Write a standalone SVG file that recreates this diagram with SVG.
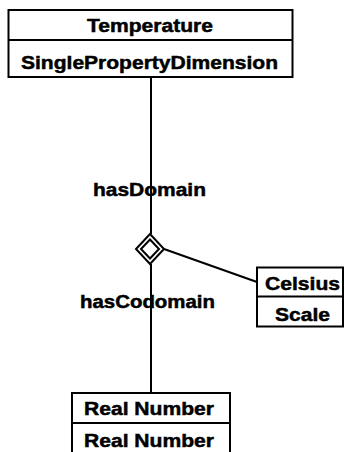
<svg xmlns="http://www.w3.org/2000/svg" width="345" height="452" viewBox="0 0 345 452">
<style>
.box{fill:#fff;stroke:#000;stroke-width:2}
.ln{stroke:#000;stroke-width:2;fill:none}
text{font-family:"Liberation Sans",Arial,sans-serif;font-weight:bold;font-size:19px;fill:#000;stroke:#000;stroke-width:0.5;text-anchor:middle}
</style>
<rect width="345" height="452" fill="#fff"/>
<g id="connectors">
<line class="ln" x1="151" y1="77" x2="151" y2="234"/>
<line class="ln" x1="151" y1="264" x2="151" y2="393"/>
<line class="ln" x1="164" y1="249" x2="257" y2="282"/>
</g>
<g id="labels">
<text x="149.5" y="195.5" textLength="113" lengthAdjust="spacingAndGlyphs">hasDomain</text>
<text x="147.5" y="307.5" textLength="135" lengthAdjust="spacingAndGlyphs">hasCodomain</text>
</g>
<g id="diamond">
<polygon class="box" points="150,234 164,249 150,264 136,249"/>
<polygon class="ln" points="150,239.5 159,249 150,258.5 141,249"/>
</g>
<g id="temperature">
<rect class="box" x="8.5" y="10" width="284" height="67"/>
<line class="ln" x1="8.5" y1="40" x2="292.5" y2="40"/>
<text x="150" y="32" textLength="126" lengthAdjust="spacingAndGlyphs">Temperature</text>
<text x="149.5" y="69" textLength="257" lengthAdjust="spacingAndGlyphs">SinglePropertyDimension</text>
</g>
<g id="celsius">
<rect class="box" x="257" y="267.5" width="86" height="59"/>
<line class="ln" x1="257" y1="296.5" x2="343" y2="296.5"/>
<text x="302.5" y="290" textLength="75" lengthAdjust="spacingAndGlyphs">Celsius</text>
<text x="302.5" y="320.5" textLength="55" lengthAdjust="spacingAndGlyphs">Scale</text>
</g>
<g id="realnumber">
<rect class="box" x="72" y="393" width="158" height="70"/>
<line class="ln" x1="72" y1="423" x2="230" y2="423"/>
<text x="149" y="415" textLength="130" lengthAdjust="spacingAndGlyphs">Real Number</text>
<text x="149" y="447" textLength="130" lengthAdjust="spacingAndGlyphs">Real Number</text>
</g>
</svg>
